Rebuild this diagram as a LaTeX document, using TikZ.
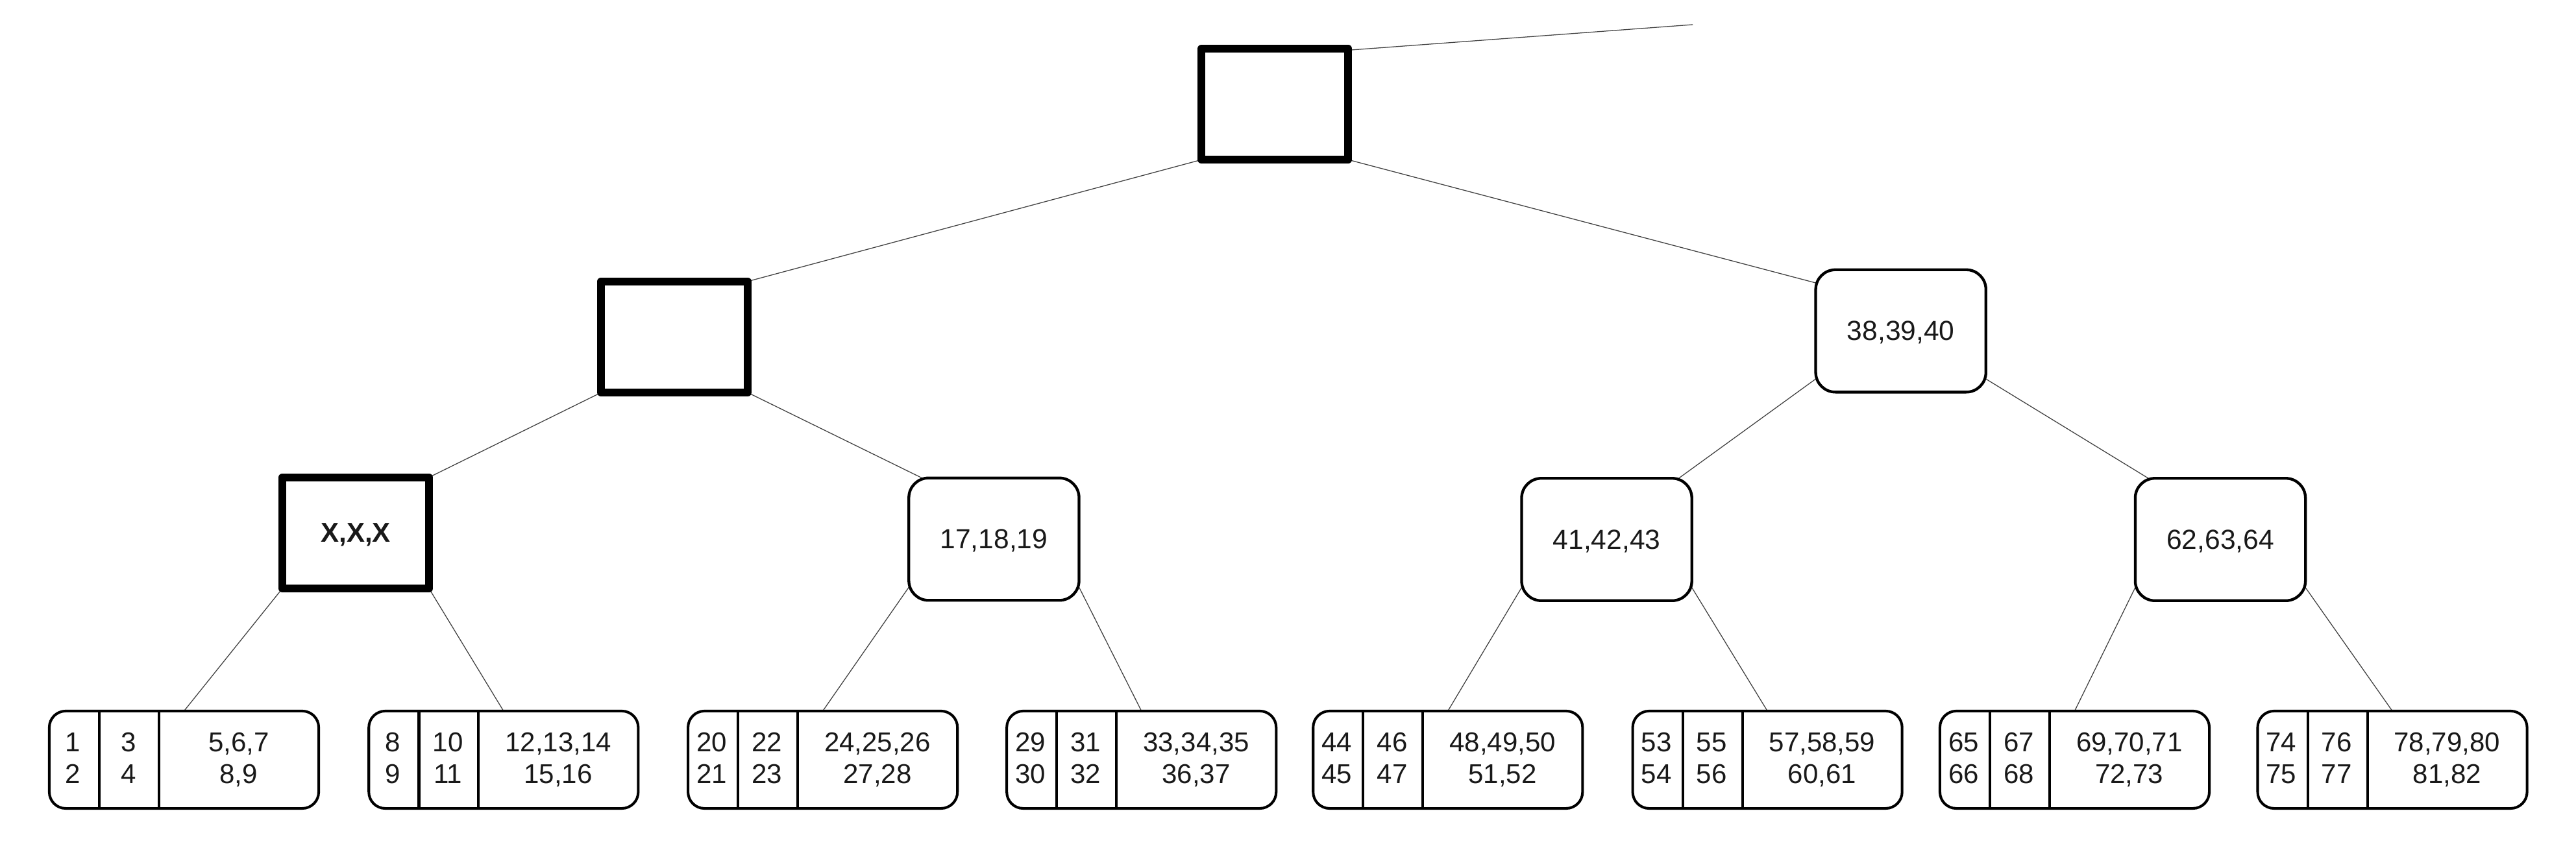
\documentclass[tikz,border=0pt]{standalone}
\usepackage{fontspec}
\setmainfont{Liberation Sans}
\usetikzlibrary{calc,backgrounds}
\newcommand\leafnode[8]{%
  \node[leafbox] (#1) at (#2+82.8, 462.6) {};
  \draw[divider] ($(#1.north west)+(30.5,0)$) -- ($(#1.south west)+(30.5,0)$);
  \draw[divider] ($(#1.north west)+(66.8,0)$) -- ($(#1.south west)+(66.8,0)$);
  \node[leaftext] (#1a) at (#2+15.2, 457.5) {#3};
  \node[leaftext] (#1b) at (#2+15.2, 477) {#4};
  \node[leaftext] (#1c) at (#2+48.9, 457.5) {#5};
  \node[leaftext] (#1d) at (#2+48.9, 477) {#6};
  \node[leaftext] (#1e) at (#2+116.1, 457.5) {#7};
  \node[leaftext] (#1f) at (#2+116.1, 477) {#8};
}
\begin{document}
\begin{tikzpicture}[x=1pt,y=-1pt,
  thickbox/.style={draw=black, line width=4.7pt, line join=round, fill=white,
    minimum width=89.3pt, minimum height=67.7pt, inner sep=0pt, outer sep=0pt,
    text depth=0pt, text=black!90, font=\fontsize{16.6}{19}\selectfont\bfseries},
  inbox/.style={draw=black, line width=1.7pt, rounded corners=12pt, fill=white,
    minimum width=103.6pt, minimum height=74.5pt, inner sep=0pt, outer sep=0pt,
    text depth=0pt, text=black!90, font=\fontsize{16.8}{19}\selectfont},
  leafbox/.style={draw=black, line width=1.6pt, rounded corners=10pt, fill=white,
    minimum width=164pt, minimum height=59.3pt, inner sep=0pt, outer sep=0pt},
  divider/.style={draw=black, line width=1.6pt},
  leaftext/.style={anchor=base, inner sep=0pt, outer sep=0pt, text=black!90,
    font=\fontsize{16.6}{19}\selectfont},
  edgeline/.style={draw=black!75, line width=0.5pt},
]
\useasboundingbox (0,0) rectangle (1568,522.7);

% inner nodes
\node[thickbox] (root) at (776, 63.4) {};
\node[thickbox] (l2l) at (410.5, 205.2) {};
\node[inbox] (n38) at (1157, 201.5) {38,39,40};
\node[thickbox] (xxx) at (216.5, 324.5) {X,X,X};
\node[inbox] (n17) at (605, 328.3) {17,18,19};
\node[inbox] (n41) at (978, 328.5) {41,42,43};
\node[inbox] (n62) at (1351.5, 328.5) {62,63,64};

% leaves
\leafnode{L1}{29.2}{1}{2}{3}{4}{5,6,7}{8,9}
\leafnode{L2}{223.7}{8}{9}{10}{11}{12,13,14}{15,16}
\leafnode{L3}{418}{20}{21}{22}{23}{24,25,26}{27,28}
\leafnode{L4}{612}{29}{30}{31}{32}{33,34,35}{36,37}
\leafnode{L5}{798.5}{44}{45}{46}{47}{48,49,50}{51,52}
\leafnode{L6}{993}{53}{54}{55}{56}{57,58,59}{60,61}
\leafnode{L7}{1180}{65}{66}{67}{68}{69,70,71}{72,73}
\leafnode{L8}{1373.4}{74}{75}{76}{77}{78,79,80}{81,82}

\coordinate (tail) at (1030.4, 15);

\begin{scope}[on background layer]
  \draw[edgeline] ($(root.north east)+(0,1)$) -- (tail);
  \draw[edgeline] (root.south west) -- (l2l.north east);
  \draw[edgeline] (root.south east) -- ($(n38.north west)+(0,8)$);
  \draw[edgeline] (l2l.south west) -- (xxx.north east);
  \draw[edgeline] (l2l.south east) -- ($(n17.north west)+(8,0)$);
  \draw[edgeline] ($(n38.south west)+(0,-8)$) -- ($(n41.north east)+(-8,0)$);
  \draw[edgeline] ($(n38.south east)+(0,-8)$) -- ($(n62.north west)+(8,0)$);
  \draw[edgeline] (xxx.south west) -- (L1.north);
  \draw[edgeline] (xxx.south east) -- (L2.north);
  \draw[edgeline] ($(n17.south west)+(0,-8)$) -- (L3.north);
  \draw[edgeline] ($(n17.south east)+(0,-8)$) -- (L4.north);
  \draw[edgeline] ($(n41.south west)+(0,-8)$) -- (L5.north);
  \draw[edgeline] ($(n41.south east)+(0,-8)$) -- (L6.north);
  \draw[edgeline] ($(n62.south west)+(0,-8)$) -- (L7.north);
  \draw[edgeline] ($(n62.south east)+(0,-8)$) -- (L8.north);
\end{scope}
\end{tikzpicture}
\end{document}
